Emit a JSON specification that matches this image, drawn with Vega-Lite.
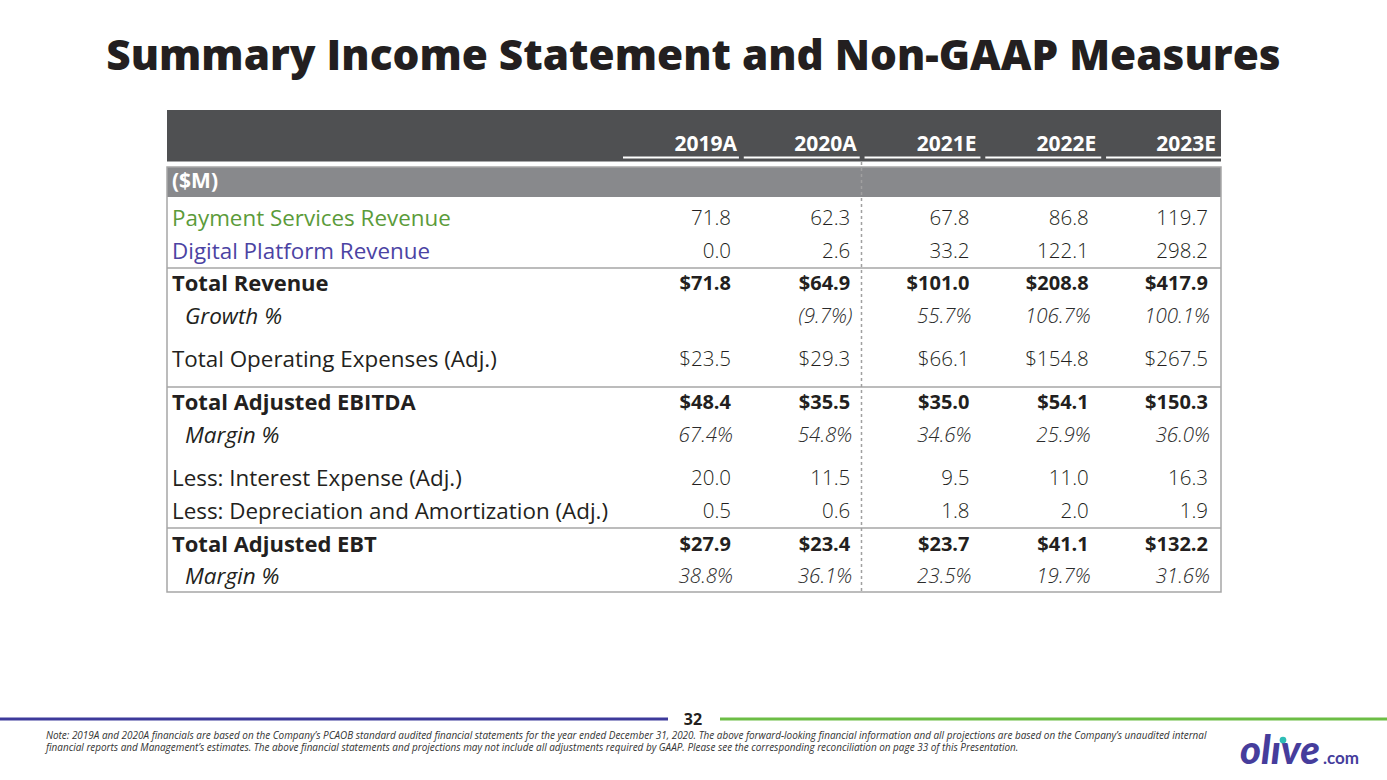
{
  "$schema": "https://vega.github.io/schema/vega-lite/v6.json",
  "width": 1387,
  "height": 780,
  "autosize": {"type": "none"},
  "padding": 0,
  "background": "white",
  "view": {"stroke": null},
  "title": {
    "text": "Summary Income Statement and Non-GAAP Measures",
    "orient": "top",
    "anchor": "middle",
    "frame": "group",
    "offset": -112,
    "baseline": "alphabetic",
    "font": "Open Sans",
    "fontSize": 42.3,
    "fontWeight": 800,
    "color": "#231f20"
  },
  "datasets": {
    "cols": [{"col": "2019A"}, {"col": "2020A"}, {"col": "2021E"}, {"col": "2022E"}, {"col": "2023E"}],
    "labels": [
      {"row": "pay", "label": "Payment Services Revenue"},
      {"row": "dig", "label": "Digital Platform Revenue"},
      {"row": "tr", "label": "Total Revenue"},
      {"row": "gr", "label": "Growth %"},
      {"row": "opx", "label": "Total Operating Expenses (Adj.)"},
      {"row": "ebitda", "label": "Total Adjusted EBITDA"},
      {"row": "m1", "label": "Margin %"},
      {"row": "int", "label": "Less: Interest Expense (Adj.)"},
      {"row": "da", "label": "Less: Depreciation and Amortization (Adj.)"},
      {"row": "ebt", "label": "Total Adjusted EBT"},
      {"row": "m2", "label": "Margin %"}
    ],
    "cells": [
      {"row": "pay", "col": "2019A", "value": 71.8}, {"row": "pay", "col": "2020A", "value": 62.3}, {"row": "pay", "col": "2021E", "value": 67.8}, {"row": "pay", "col": "2022E", "value": 86.8}, {"row": "pay", "col": "2023E", "value": 119.7},
      {"row": "dig", "col": "2019A", "value": 0.0}, {"row": "dig", "col": "2020A", "value": 2.6}, {"row": "dig", "col": "2021E", "value": 33.2}, {"row": "dig", "col": "2022E", "value": 122.1}, {"row": "dig", "col": "2023E", "value": 298.2},
      {"row": "tr", "col": "2019A", "value": 71.8}, {"row": "tr", "col": "2020A", "value": 64.9}, {"row": "tr", "col": "2021E", "value": 101.0}, {"row": "tr", "col": "2022E", "value": 208.8}, {"row": "tr", "col": "2023E", "value": 417.9},
      {"row": "gr", "col": "2020A", "value": -0.097}, {"row": "gr", "col": "2021E", "value": 0.557}, {"row": "gr", "col": "2022E", "value": 1.067}, {"row": "gr", "col": "2023E", "value": 1.001},
      {"row": "opx", "col": "2019A", "value": 23.5}, {"row": "opx", "col": "2020A", "value": 29.3}, {"row": "opx", "col": "2021E", "value": 66.1}, {"row": "opx", "col": "2022E", "value": 154.8}, {"row": "opx", "col": "2023E", "value": 267.5},
      {"row": "ebitda", "col": "2019A", "value": 48.4}, {"row": "ebitda", "col": "2020A", "value": 35.5}, {"row": "ebitda", "col": "2021E", "value": 35.0}, {"row": "ebitda", "col": "2022E", "value": 54.1}, {"row": "ebitda", "col": "2023E", "value": 150.3},
      {"row": "m1", "col": "2019A", "value": 0.674}, {"row": "m1", "col": "2020A", "value": 0.548}, {"row": "m1", "col": "2021E", "value": 0.346}, {"row": "m1", "col": "2022E", "value": 0.259}, {"row": "m1", "col": "2023E", "value": 0.360},
      {"row": "int", "col": "2019A", "value": 20.0}, {"row": "int", "col": "2020A", "value": 11.5}, {"row": "int", "col": "2021E", "value": 9.5}, {"row": "int", "col": "2022E", "value": 11.0}, {"row": "int", "col": "2023E", "value": 16.3},
      {"row": "da", "col": "2019A", "value": 0.5}, {"row": "da", "col": "2020A", "value": 0.6}, {"row": "da", "col": "2021E", "value": 1.8}, {"row": "da", "col": "2022E", "value": 2.0}, {"row": "da", "col": "2023E", "value": 1.9},
      {"row": "ebt", "col": "2019A", "value": 27.9}, {"row": "ebt", "col": "2020A", "value": 23.4}, {"row": "ebt", "col": "2021E", "value": 23.7}, {"row": "ebt", "col": "2022E", "value": 41.1}, {"row": "ebt", "col": "2023E", "value": 132.2},
      {"row": "m2", "col": "2019A", "value": 0.388}, {"row": "m2", "col": "2020A", "value": 0.361}, {"row": "m2", "col": "2021E", "value": 0.235}, {"row": "m2", "col": "2022E", "value": 0.197}, {"row": "m2", "col": "2023E", "value": 0.316}
    ]
  },
  "layer": [
    {
      "data": {"values": [{}]},
      "mark": {"type": "rect", "fill": "#4f5052"},
      "encoding": {"x": {"value": 167}, "x2": {"value": 1221}, "y": {"value": 110}, "y2": {"value": 161.5}}
    },
    {
      "data": {"values": [{}]},
      "mark": {"type": "rect", "fill": "#88898c"},
      "encoding": {"x": {"value": 167}, "x2": {"value": 1221}, "y": {"value": 167}, "y2": {"value": 197}}
    },
    {
      "data": {"values": [{}]},
      "mark": {"type": "rect", "fill": null, "stroke": "#a6a6a6", "strokeWidth": 1.5},
      "encoding": {"x": {"value": 167}, "x2": {"value": 1221}, "y": {"value": 167}, "y2": {"value": 592}}
    },
    {
      "data": {"values": [{}]},
      "mark": {"type": "rule", "stroke": "#a6a6a6", "strokeWidth": 1.5},
      "encoding": {"x": {"value": 167}, "x2": {"value": 1221}, "y": {"value": 268}}
    },
    {
      "data": {"values": [{}]},
      "mark": {"type": "rule", "stroke": "#a6a6a6", "strokeWidth": 1.5},
      "encoding": {"x": {"value": 167}, "x2": {"value": 1221}, "y": {"value": 387}}
    },
    {
      "data": {"values": [{}]},
      "mark": {"type": "rule", "stroke": "#a6a6a6", "strokeWidth": 1.5},
      "encoding": {"x": {"value": 167}, "x2": {"value": 1221}, "y": {"value": 528}}
    },
    {
      "data": {"values": [{}]},
      "mark": {"type": "rule", "stroke": "#a0a0a0", "strokeWidth": 1.5, "strokeDash": [3, 3]},
      "encoding": {"x": {"value": 861.5}, "y": {"value": 162}, "y2": {"value": 592}}
    },
    {
      "data": {"name": "cols"},
      "mark": {"type": "rect", "fill": "white"},
      "encoding": {
        "x": {"field": "col", "type": "nominal", "axis": null, "scale": {"type": "band", "domain": ["2019A", "2020A", "2021E", "2022E", "2023E"], "range": [623, 1222], "paddingInner": 0.04, "paddingOuter": 0}},
        "y": {"value": 156.5},
        "y2": {"value": 158.5}
      }
    },
    {
      "data": {"name": "cols"},
      "mark": {"type": "text", "align": "right", "baseline": "middle", "font": "Open Sans", "fontSize": 21, "fontWeight": "bold", "fill": "white", "dy": 2},
      "encoding": {
        "x": {"field": "col", "type": "nominal", "axis": null, "scale": {"type": "point", "domain": ["2019A", "2020A", "2021E", "2022E", "2023E"], "range": [737, 1216], "padding": 0}},
        "y": {"datum": "hdr", "type": "nominal", "axis": null, "scale": {"type": "point", "domain": ["hdr","f1","f2","f3","unit","f4","f5","pay","f6","f7","dig","f8","f9","tr","f10","f11","gr","f12","f13","f14","opx","f15","f16","f17","ebitda","f18","f19","m1","f20","f21","f22","int","f23","f24","da","f25","f26","ebt","f27","f28","m2"], "range": [143.05, 577.05], "padding": 0}},
        "text": {"field": "col", "type": "nominal"}
      }
    },
    {
      "data": {"values": [{}]},
      "mark": {"type": "text", "align": "left", "baseline": "middle", "font": "Open Sans", "fontSize": 21, "fontWeight": "bold", "fill": "white", "dy": -4, "text": "($M)"},
      "encoding": {
        "x": {"value": 172},
        "y": {"datum": "unit", "type": "nominal", "axis": null, "scale": {"type": "point", "domain": ["hdr","f1","f2","f3","unit","f4","f5","pay","f6","f7","dig","f8","f9","tr","f10","f11","gr","f12","f13","f14","opx","f15","f16","f17","ebitda","f18","f19","m1","f20","f21","f22","int","f23","f24","da","f25","f26","ebt","f27","f28","m2"], "range": [143.05, 577.05], "padding": 0}}
      }
    },
    {
      "data": {"name": "labels"},
      "transform": [{"filter": {"field": "row", "oneOf": ["pay", "dig", "opx", "int", "da"]}}],
      "mark": {"type": "text", "align": "left", "baseline": "middle", "font": "Open Sans", "fontSize": 22.4},
      "encoding": {
        "x": {"value": 172},
        "y": {"field": "row", "type": "nominal", "axis": null, "scale": {"type": "point", "domain": ["hdr","f1","f2","f3","unit","f4","f5","pay","f6","f7","dig","f8","f9","tr","f10","f11","gr","f12","f13","f14","opx","f15","f16","f17","ebitda","f18","f19","m1","f20","f21","f22","int","f23","f24","da","f25","f26","ebt","f27","f28","m2"], "range": [143.05, 577.05], "padding": 0}},
        "color": {"field": "row", "type": "nominal", "legend": null, "scale": {"domain": ["pay", "dig", "opx", "int", "da"], "range": ["#5b9b3a", "#4b43a3", "#231f20", "#231f20", "#231f20"]}},
        "text": {"field": "label", "type": "nominal"}
      }
    },
    {
      "data": {"name": "labels"},
      "transform": [{"filter": {"field": "row", "oneOf": ["tr", "ebitda", "ebt"]}}],
      "mark": {"type": "text", "align": "left", "baseline": "middle", "font": "Open Sans", "fontSize": 22, "fontWeight": "bold", "fill": "#231f20"},
      "encoding": {
        "x": {"value": 172},
        "y": {"field": "row", "type": "nominal", "axis": null, "scale": {"type": "point", "domain": ["hdr","f1","f2","f3","unit","f4","f5","pay","f6","f7","dig","f8","f9","tr","f10","f11","gr","f12","f13","f14","opx","f15","f16","f17","ebitda","f18","f19","m1","f20","f21","f22","int","f23","f24","da","f25","f26","ebt","f27","f28","m2"], "range": [143.05, 577.05], "padding": 0}},
        "text": {"field": "label", "type": "nominal"}
      }
    },
    {
      "data": {"name": "labels"},
      "transform": [{"filter": {"field": "row", "oneOf": ["gr", "m1", "m2"]}}],
      "mark": {"type": "text", "align": "left", "baseline": "middle", "font": "Open Sans", "fontSize": 22.5, "fontStyle": "italic", "fill": "#231f20"},
      "encoding": {
        "x": {"value": 185},
        "y": {"field": "row", "type": "nominal", "axis": null, "scale": {"type": "point", "domain": ["hdr","f1","f2","f3","unit","f4","f5","pay","f6","f7","dig","f8","f9","tr","f10","f11","gr","f12","f13","f14","opx","f15","f16","f17","ebitda","f18","f19","m1","f20","f21","f22","int","f23","f24","da","f25","f26","ebt","f27","f28","m2"], "range": [143.05, 577.05], "padding": 0}},
        "text": {"field": "label", "type": "nominal"}
      }
    },
    {
      "data": {"name": "cells"},
      "transform": [{"filter": {"field": "row", "oneOf": ["pay", "dig", "int", "da"]}}],
      "mark": {"type": "text", "align": "right", "baseline": "middle", "font": "Open Sans", "fontSize": 20.5, "fontWeight": 300, "fill": "#231f20"},
      "encoding": {
        "x": {"field": "col", "type": "nominal", "axis": null, "scale": {"type": "point", "domain": ["2019A", "2020A", "2021E", "2022E", "2023E"], "range": [731, 1208], "padding": 0}},
        "y": {"field": "row", "type": "nominal", "axis": null, "scale": {"type": "point", "domain": ["hdr","f1","f2","f3","unit","f4","f5","pay","f6","f7","dig","f8","f9","tr","f10","f11","gr","f12","f13","f14","opx","f15","f16","f17","ebitda","f18","f19","m1","f20","f21","f22","int","f23","f24","da","f25","f26","ebt","f27","f28","m2"], "range": [143.05, 577.05], "padding": 0}},
        "text": {"field": "value", "type": "quantitative", "format": ".1f"}
      }
    },
    {
      "data": {"name": "cells"},
      "transform": [{"filter": {"field": "row", "oneOf": ["opx"]}}],
      "mark": {"type": "text", "align": "right", "baseline": "middle", "font": "Open Sans", "fontSize": 20.5, "fontWeight": 300, "fill": "#231f20"},
      "encoding": {
        "x": {"field": "col", "type": "nominal", "axis": null, "scale": {"type": "point", "domain": ["2019A", "2020A", "2021E", "2022E", "2023E"], "range": [731, 1208], "padding": 0}},
        "y": {"field": "row", "type": "nominal", "axis": null, "scale": {"type": "point", "domain": ["hdr","f1","f2","f3","unit","f4","f5","pay","f6","f7","dig","f8","f9","tr","f10","f11","gr","f12","f13","f14","opx","f15","f16","f17","ebitda","f18","f19","m1","f20","f21","f22","int","f23","f24","da","f25","f26","ebt","f27","f28","m2"], "range": [143.05, 577.05], "padding": 0}},
        "text": {"field": "value", "type": "quantitative", "format": "$.1f"}
      }
    },
    {
      "data": {"name": "cells"},
      "transform": [{"filter": {"field": "row", "oneOf": ["tr", "ebitda", "ebt"]}}],
      "mark": {"type": "text", "align": "right", "baseline": "middle", "font": "Open Sans", "fontSize": 20, "fontWeight": "bold", "fill": "#231f20"},
      "encoding": {
        "x": {"field": "col", "type": "nominal", "axis": null, "scale": {"type": "point", "domain": ["2019A", "2020A", "2021E", "2022E", "2023E"], "range": [731, 1208], "padding": 0}},
        "y": {"field": "row", "type": "nominal", "axis": null, "scale": {"type": "point", "domain": ["hdr","f1","f2","f3","unit","f4","f5","pay","f6","f7","dig","f8","f9","tr","f10","f11","gr","f12","f13","f14","opx","f15","f16","f17","ebitda","f18","f19","m1","f20","f21","f22","int","f23","f24","da","f25","f26","ebt","f27","f28","m2"], "range": [143.05, 577.05], "padding": 0}},
        "text": {"field": "value", "type": "quantitative", "format": "$.1f"}
      }
    },
    {
      "data": {"name": "cells"},
      "transform": [{"filter": {"field": "row", "oneOf": ["gr", "m1", "m2"]}}],
      "mark": {"type": "text", "align": "right", "baseline": "middle", "font": "Open Sans", "fontSize": 20.5, "fontWeight": 300, "fontStyle": "italic", "fill": "#2b2b2b"},
      "encoding": {
        "x": {"field": "col", "type": "nominal", "axis": null, "scale": {"type": "point", "domain": ["2019A", "2020A", "2021E", "2022E", "2023E"], "range": [733, 1210], "padding": 0}},
        "y": {"field": "row", "type": "nominal", "axis": null, "scale": {"type": "point", "domain": ["hdr","f1","f2","f3","unit","f4","f5","pay","f6","f7","dig","f8","f9","tr","f10","f11","gr","f12","f13","f14","opx","f15","f16","f17","ebitda","f18","f19","m1","f20","f21","f22","int","f23","f24","da","f25","f26","ebt","f27","f28","m2"], "range": [143.05, 577.05], "padding": 0}},
        "text": {"field": "value", "type": "quantitative", "format": "(.1%"}
      }
    },
    {
      "data": {"values": [{}]},
      "mark": {"type": "rule", "stroke": "#3d3a9b", "strokeWidth": 3},
      "encoding": {"x": {"value": 0}, "x2": {"value": 668}, "y": {"value": 719}}
    },
    {
      "data": {"values": [{}]},
      "mark": {"type": "rule", "stroke": "#6cbd45", "strokeWidth": 3},
      "encoding": {"x": {"value": 720}, "x2": {"value": 1387}, "y": {"value": 719}}
    },
    {
      "data": {"values": [{}]},
      "mark": {"type": "text", "align": "center", "baseline": "middle", "font": "Open Sans", "fontSize": 16, "fontWeight": "bold", "fill": "#231f20", "text": "32"},
      "encoding": {"x": {"value": 693}, "y": {"value": 720}}
    },
    {
      "data": {"values": [{}]},
      "mark": {"type": "text", "align": "left", "baseline": "middle", "font": "Open Sans", "fontSize": 9.95, "fontStyle": "italic", "fill": "#333333", "lineHeight": 11.5,
        "text": ["Note: 2019A and 2020A financials are based on the Company’s PCAOB standard audited financial statements for the year ended December 31, 2020. The above forward-looking financial information and all projections are based on the Company’s unaudited internal", "financial reports and Management’s estimates. The above financial statements and projections may not include all adjustments required by GAAP. Please see the corresponding reconciliation on page 33 of this Presentation."]},
      "encoding": {"x": {"value": 46}, "y": {"value": 736}}
    },
    {
      "data": {"values": [{}]},
      "mark": {"type": "text", "align": "left", "baseline": "alphabetic", "font": "Lato", "fontSize": 40, "fontWeight": 900, "fontStyle": "italic", "fill": "#463d9c", "text": "olıve"},
      "encoding": {"x": {"value": 1240}, "y": {"value": 764}}
    },
    {
      "data": {"values": [{}]},
      "mark": {"type": "text", "align": "left", "baseline": "alphabetic", "font": "Lato", "fontSize": 17, "fontWeight": "bold", "fill": "#463d9c", "text": ".com"},
      "encoding": {"x": {"value": 1323}, "y": {"value": 764}}
    },
    {
      "data": {"values": [{}]},
      "mark": {"type": "point", "shape": "circle", "filled": true, "fill": "#2dbdb6", "opacity": 1, "size": 45},
      "encoding": {"x": {"value": 1283}, "y": {"value": 740}}
    }
  ],
  "resolve": {"scale": {"x": "independent"}}
}
